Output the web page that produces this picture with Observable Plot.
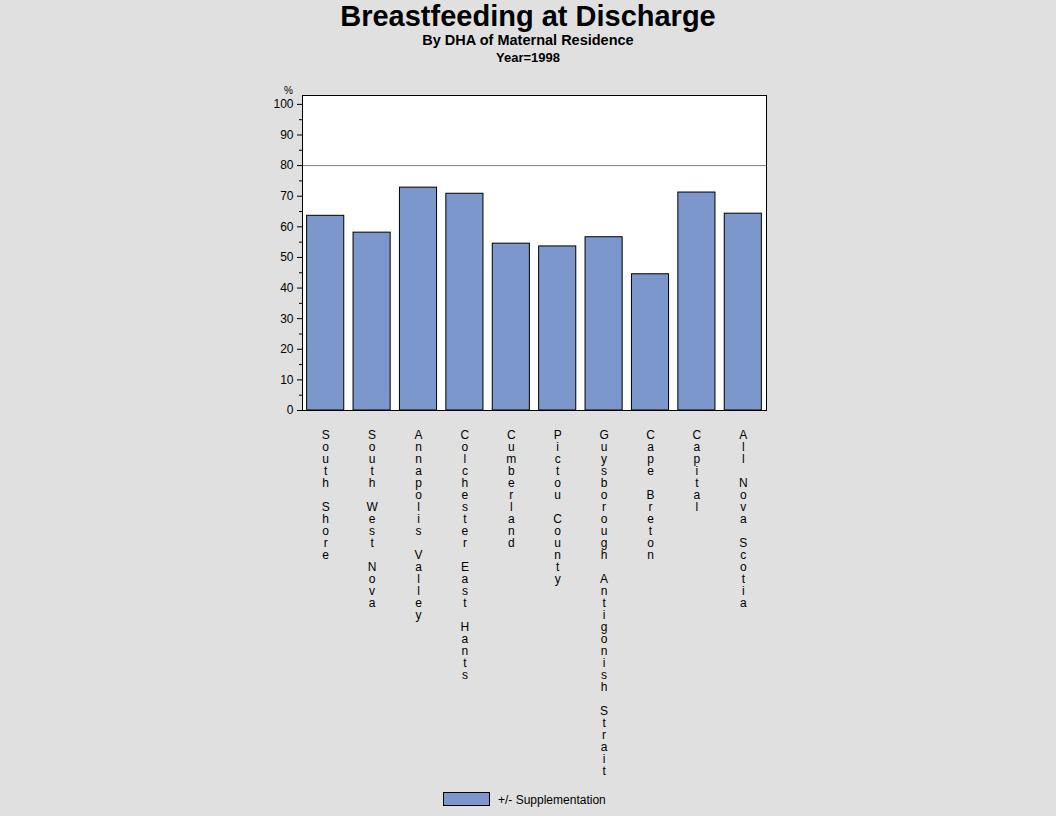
<!DOCTYPE html>
<html>
<head>
<meta charset="utf-8">
<script src="https://cdn.jsdelivr.net/npm/d3@7"></script>
<script src="https://cdn.jsdelivr.net/npm/@observablehq/plot@0.6"></script>
<style>
  html, body { margin: 0; padding: 0; background: #e0e0e0; }
  body { width: 1056px; height: 816px; overflow: hidden; font-family: Arial, "Liberation Sans", sans-serif; color: #000; }
  #header { position: relative; height: 70px; }
  #header div { position: absolute; left: 0; width: 1056px; text-align: center; font-weight: bold; line-height: 1; white-space: nowrap; }
  #legend { position: relative; height: 30px; }
  #legend .sw { position: absolute; left: 443px; top: 6px; width: 45px; height: 12px; border: 1px solid #000; }
  #legend .lb { position: absolute; left: 498px; top: 7px; font-size: 12px; line-height: 14px; white-space: nowrap; }
</style>
</head>
<body>
<div id="header">
  <div style="top:2px;font-size:29px">Breastfeeding at Discharge</div>
  <div style="top:33px;font-size:14.5px">By DHA of Maternal Residence</div>
  <div style="top:51px;font-size:13px">Year=1998</div>
</div>
<div id="chart"></div>
<div id="legend"><div class="sw"></div><div class="lb">+/- Supplementation</div></div>
<script>
const dhas = ["South Shore", "South West Nova", "Annapolis Valley", "Colchester East Hants",
  "Cumberland", "Pictou County", "Guysborough Antigonish Strait", "Cape Breton", "Capital", "All Nova Scotia"];
const pct = [63.6, 58.1, 72.8, 70.8, 54.5, 53.6, 56.6, 44.5, 71.2, 64.3];
const yTicks = [0, 10, 20, 30, 40, 50, 60, 70, 80, 90, 100];
const yMinorTicks = [5, 15, 25, 35, 45, 55, 65, 75, 85, 95];
const refLine = [80];
const seriesName = "+/- Supplementation";
const barColor = "#7b97cc";

document.querySelector("#legend .sw").style.background = barColor;
document.querySelector("#legend .lb").textContent = seriesName;

const data = dhas.map((d, i) => ({dha: d, pct: pct[i]}));

const chart = Plot.plot({
  width: 1056,
  height: 716,
  marginLeft: 302,
  marginRight: 290,
  marginTop: 25,
  marginBottom: 376,
  style: {fontFamily: "Arial, 'Liberation Sans', sans-serif", fontSize: "12px", background: "transparent", color: "#000"},
  x: {domain: dhas, paddingInner: 0.2, paddingOuter: 0.1, round: false, label: null},
  y: {domain: [0, 102.9], label: null},
  marks: [
    Plot.frame({fill: "white", stroke: null}),
    Plot.ruleY(refLine, {stroke: "#808080", strokeWidth: 1}),
    Plot.barY(data, {x: "dha", y: "pct", fill: barColor, stroke: "black", strokeWidth: 1}),
    Plot.frame({stroke: "black", strokeWidth: 1}),
    Plot.axisY({ticks: yTicks, tickSize: 5, tickPadding: 4, fontSize: 12, label: null, stroke: "black"}),
    Plot.axisY({ticks: yMinorTicks, tickSize: 3, tickFormat: () => "", label: null, stroke: "black"}),
    Plot.text(["%"], {frameAnchor: "top-left", dx: -14, dy: -2, lineAnchor: "bottom", textAnchor: "middle", fontSize: 10}),
    Plot.axisX({
      tickSize: 0, tickPadding: 20, fontSize: 12, lineHeight: 1, label: null,
      tickFormat: d => Array.from(d).map(c => c === " " ? "\u00a0" : c).join("\n")
    })
  ]
});
document.getElementById("chart").appendChild(chart);
</script>
</body>
</html>
